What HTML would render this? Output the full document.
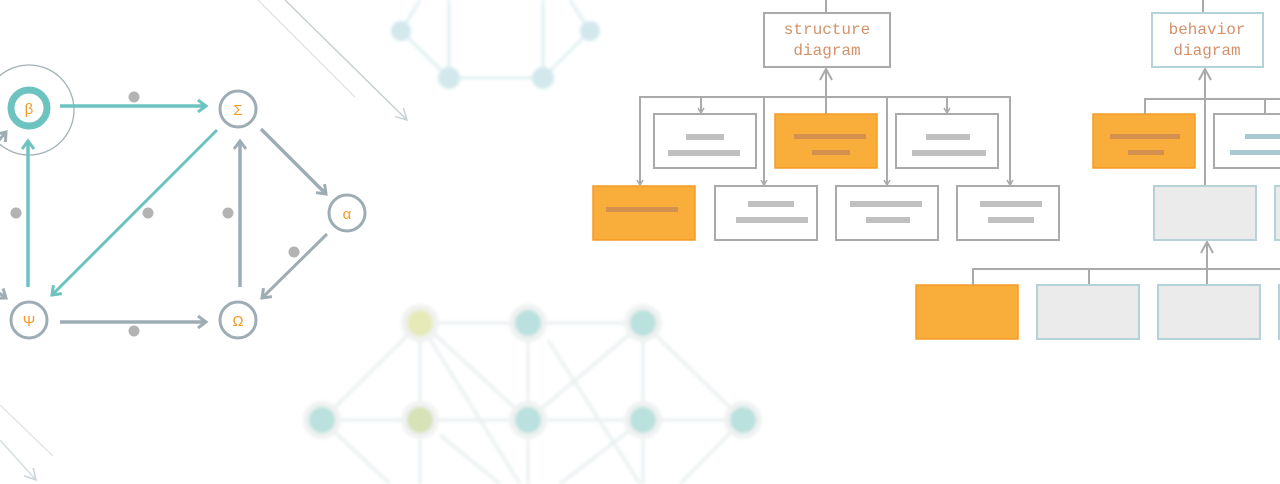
<!DOCTYPE html>
<html><head><meta charset="utf-8"><style>
html,body{margin:0;padding:0;background:#fff;width:1280px;height:484px;overflow:hidden}
</style></head><body>
<svg width="1280" height="484" xmlns="http://www.w3.org/2000/svg" font-family="Liberation Sans, DejaVu Sans, sans-serif">
<defs>
<marker id="ag" markerWidth="14" markerHeight="14" refX="10" refY="7" orient="auto" markerUnits="userSpaceOnUse"><path d="M2,1 L10,7 L2,13" fill="none" stroke="#9eadb3" stroke-width="3"/></marker>
<marker id="at" markerWidth="14" markerHeight="14" refX="10" refY="7" orient="auto" markerUnits="userSpaceOnUse"><path d="M2,1 L10,7 L2,13" fill="none" stroke="#6cc3bf" stroke-width="3"/></marker>
<marker id="as" markerWidth="8" markerHeight="8" refX="6" refY="4" orient="auto" markerUnits="userSpaceOnUse"><path d="M1,1 L6,4 L1,7" fill="none" stroke="#aaa" stroke-width="1.5"/></marker>
<marker id="al" markerWidth="14" markerHeight="14" refX="12" refY="7" orient="auto" markerUnits="userSpaceOnUse"><path d="M1,1 L12,7 L1,13" fill="none" stroke="#aaa" stroke-width="2"/></marker>
<marker id="af" markerWidth="14" markerHeight="14" refX="12" refY="7" orient="auto" markerUnits="userSpaceOnUse"><path d="M1,1 L12,7 L1,13" fill="none" stroke="#c8d4d8" stroke-width="1.5"/></marker>
<filter id="bl"><feGaussianBlur stdDeviation="1.5"/></filter>
</defs>
<line x1="258" y1="0" x2="355" y2="97" stroke="#e2e6e8" stroke-width="1.5"/>
<line x1="285" y1="0" x2="407" y2="120" stroke="#c8d0d3" stroke-width="1.5" marker-end="url(#af)"/>
<line x1="0" y1="405" x2="53" y2="456" stroke="#e2e6e8" stroke-width="1.5"/>
<line x1="0" y1="440" x2="36" y2="480" stroke="#d5dde0" stroke-width="1.5" marker-end="url(#af)"/>
<g filter="url(#bl)" opacity="0.7">
<g stroke="#d3e8ea" stroke-width="3" fill="none">
<line x1="401" y1="31" x2="420" y2="0"/><line x1="401" y1="31" x2="449" y2="78"/>
<line x1="449" y1="0" x2="449" y2="78"/><line x1="449" y1="78" x2="543" y2="78"/>
<line x1="543" y1="0" x2="543" y2="78"/><line x1="543" y1="78" x2="590" y2="31"/><line x1="590" y1="31" x2="570" y2="0"/>
</g>
<g fill="#bfdfe3"><circle cx="401" cy="31" r="10"/><circle cx="590" cy="31" r="10"/><circle cx="449" cy="78" r="11"/><circle cx="543" cy="78" r="11"/></g>
</g>
<g filter="url(#bl)" opacity="0.8">
<g stroke="#e3ebec" stroke-width="3" fill="none">
<line x1="322" y1="420" x2="420" y2="323"/><line x1="322" y1="420" x2="420" y2="420"/><line x1="322" y1="420" x2="390" y2="484"/>
<line x1="420" y1="323" x2="528" y2="323"/><line x1="528" y1="323" x2="643" y2="323"/>
<line x1="420" y1="323" x2="420" y2="420"/><line x1="528" y1="323" x2="528" y2="420"/><line x1="643" y1="323" x2="643" y2="420"/>
<line x1="420" y1="420" x2="528" y2="420"/><line x1="528" y1="420" x2="643" y2="420"/><line x1="643" y1="420" x2="743" y2="420"/>
<line x1="420" y1="323" x2="520" y2="484"/><line x1="528" y1="420" x2="430" y2="330"/>
<line x1="548" y1="340" x2="640" y2="484"/><line x1="528" y1="420" x2="643" y2="323"/>
<line x1="643" y1="323" x2="743" y2="420"/><line x1="643" y1="420" x2="560" y2="484"/><line x1="743" y1="420" x2="680" y2="484"/>
<line x1="420" y1="440" x2="420" y2="484"/><line x1="528" y1="440" x2="528" y2="484"/><line x1="643" y1="440" x2="643" y2="484"/>
<line x1="440" y1="435" x2="500" y2="484"/>
</g>
<g fill="#eceeee"><circle cx="420" cy="323" r="19"/><circle cx="528" cy="323" r="19"/><circle cx="643" cy="323" r="19"/>
<circle cx="322" cy="420" r="19"/><circle cx="420" cy="420" r="19"/><circle cx="528" cy="420" r="19"/><circle cx="643" cy="420" r="19"/><circle cx="743" cy="420" r="19"/></g>
<circle cx="420" cy="323" r="13" fill="#e1e6a8"/><circle cx="528" cy="323" r="13" fill="#a9dad6"/><circle cx="643" cy="323" r="13" fill="#a9dad6"/>
<circle cx="322" cy="420" r="13" fill="#a9dad6"/><circle cx="420" cy="420" r="13" fill="#cedba6"/><circle cx="528" cy="420" r="13" fill="#a9dad6"/><circle cx="643" cy="420" r="13" fill="#a9dad6"/><circle cx="743" cy="420" r="13" fill="#a9dad6"/>
</g>
<circle cx="29" cy="110" r="45" fill="none" stroke="#a3b0b5" stroke-width="1.3"/>
<line x1="-5" y1="145" x2="6" y2="132" stroke="#9eadb3" stroke-width="3" marker-end="url(#ag)"/>
<line x1="-5" y1="290" x2="6" y2="298" stroke="#9eadb3" stroke-width="3" marker-end="url(#ag)"/>
<g stroke-width="3.5" fill="none">
<line x1="60" y1="106" x2="206" y2="106" stroke="#6cc3bf" marker-end="url(#at)"/>
<line x1="217" y1="130" x2="52" y2="295" stroke="#6cc3bf" stroke-width="3" marker-end="url(#at)"/>
<line x1="28" y1="287" x2="28" y2="141" stroke="#6cc3bf" marker-end="url(#at)"/>
<line x1="240" y1="287" x2="240" y2="141" stroke="#9eadb3" marker-end="url(#ag)"/>
<line x1="261" y1="129" x2="326" y2="194" stroke="#9eadb3" marker-end="url(#ag)"/>
<line x1="327" y1="234" x2="262" y2="298" stroke="#9eadb3" stroke-width="3" marker-end="url(#ag)"/>
<line x1="60" y1="322" x2="206" y2="322" stroke="#9eadb3" marker-end="url(#ag)"/>
</g>
<g fill="#b3b3b3"><circle cx="134" cy="97" r="5.5"/><circle cx="16" cy="213" r="5.5"/><circle cx="148" cy="213" r="5.5"/><circle cx="228" cy="213" r="5.5"/><circle cx="294" cy="252" r="5.5"/><circle cx="134" cy="331" r="5.5"/></g>
<circle cx="29" cy="108" r="18" fill="#fff" stroke="#6cc3bf" stroke-width="7"/>
<g fill="#fff" stroke="#9eadb3" stroke-width="3">
<circle cx="238" cy="109" r="18"/><circle cx="347" cy="213" r="18"/><circle cx="29" cy="320" r="18"/><circle cx="238" cy="320" r="18"/></g>
<g fill="#f39a2a" font-size="15" text-anchor="middle">
<text x="29" y="114">β</text><text x="238" y="115">Σ</text><text x="347" y="219">α</text><text x="29" y="326">Ψ</text><text x="238" y="326">Ω</text></g>
<g stroke="#aaa" stroke-width="2" fill="none">
<line x1="826" y1="0" x2="826" y2="13"/>
<line x1="826" y1="97" x2="826" y2="69" marker-end="url(#al)"/>
<polyline points="640,185 640,97 1010,97 1010,185"/>
<line x1="701" y1="97" x2="701" y2="113" marker-end="url(#as)"/>
<line x1="764" y1="97" x2="764" y2="185" marker-end="url(#as)"/>
<line x1="826" y1="97" x2="826" y2="114"/>
<line x1="887" y1="97" x2="887" y2="185" marker-end="url(#as)"/>
<line x1="947" y1="97" x2="947" y2="113" marker-end="url(#as)"/>
<line x1="640" y1="170" x2="640" y2="185" marker-end="url(#as)"/>
<line x1="1010" y1="170" x2="1010" y2="185" marker-end="url(#as)"/>
</g>
<rect x="764" y="13" width="126" height="54" fill="#fff" stroke="#aaa" stroke-width="2"/>
<g fill="#d4906a" font-family="Liberation Mono, monospace" font-size="16" text-anchor="middle">
<text x="827" y="34">structure</text><text x="827" y="55">diagram</text></g>
<g stroke="#aaa" stroke-width="2" fill="#fff">
<rect x="654" y="114" width="102" height="54"/><rect x="896" y="114" width="102" height="54"/>
<rect x="715" y="186" width="102" height="54"/><rect x="836" y="186" width="102" height="54"/><rect x="957" y="186" width="102" height="54"/></g>
<g fill="#f9ae3c" stroke="#f59b25" stroke-width="1.5">
<rect x="775" y="114" width="102" height="54"/><rect x="593" y="186" width="102" height="54"/>
<rect x="1093" y="114" width="102" height="54"/><rect x="916" y="285" width="102" height="54"/></g>
<g fill="#c0c0c0">
<rect x="686" y="134" width="38" height="6"/><rect x="668" y="150" width="72" height="6"/>
<rect x="926" y="134" width="44" height="6"/><rect x="912" y="150" width="74" height="6"/>
<rect x="748" y="201" width="46" height="6"/><rect x="736" y="217" width="72" height="6"/>
<rect x="850" y="201" width="72" height="6"/><rect x="866" y="217" width="44" height="6"/>
<rect x="980" y="201" width="62" height="6"/><rect x="988" y="217" width="46" height="6"/></g>
<g fill="#d4904e">
<rect x="794" y="134" width="72" height="5"/><rect x="812" y="150" width="38" height="5"/>
<rect x="606" y="207" width="72" height="5"/>
<rect x="1110" y="134" width="70" height="5"/><rect x="1128" y="150" width="36" height="5"/></g>
<g stroke="#aaa" stroke-width="2" fill="none">
<line x1="1203" y1="0" x2="1203" y2="13"/>
<line x1="1205" y1="185" x2="1205" y2="69" marker-end="url(#al)"/>
<polyline points="1145,114 1145,99 1280,99"/>
<line x1="1265" y1="99" x2="1265" y2="114"/>
<line x1="1207" y1="285" x2="1207" y2="242" marker-end="url(#al)"/>
<polyline points="973,285 973,269 1280,269"/>
<line x1="1089" y1="269" x2="1089" y2="285"/>
</g>
<rect x="1152" y="13" width="111" height="54" fill="#fff" stroke="#b6d2d9" stroke-width="2"/>
<g fill="#d4906a" font-family="Liberation Mono, monospace" font-size="16" text-anchor="middle">
<text x="1207" y="34">behavior</text><text x="1207" y="55">diagram</text></g>
<rect x="1214" y="114" width="70" height="54" fill="#fff" stroke="#aaa" stroke-width="2"/>
<rect x="1245" y="134" width="40" height="5" fill="#a8c8d2"/><rect x="1230" y="150" width="55" height="5" fill="#a8c8d2"/>
<g fill="#ebebeb" stroke="#b6d2d9" stroke-width="2">
<rect x="1154" y="186" width="102" height="54"/><rect x="1275" y="186" width="20" height="54"/>
<rect x="1037" y="285" width="102" height="54"/><rect x="1158" y="285" width="102" height="54"/><rect x="1279" y="285" width="20" height="54"/></g>
</svg>
</body></html>
